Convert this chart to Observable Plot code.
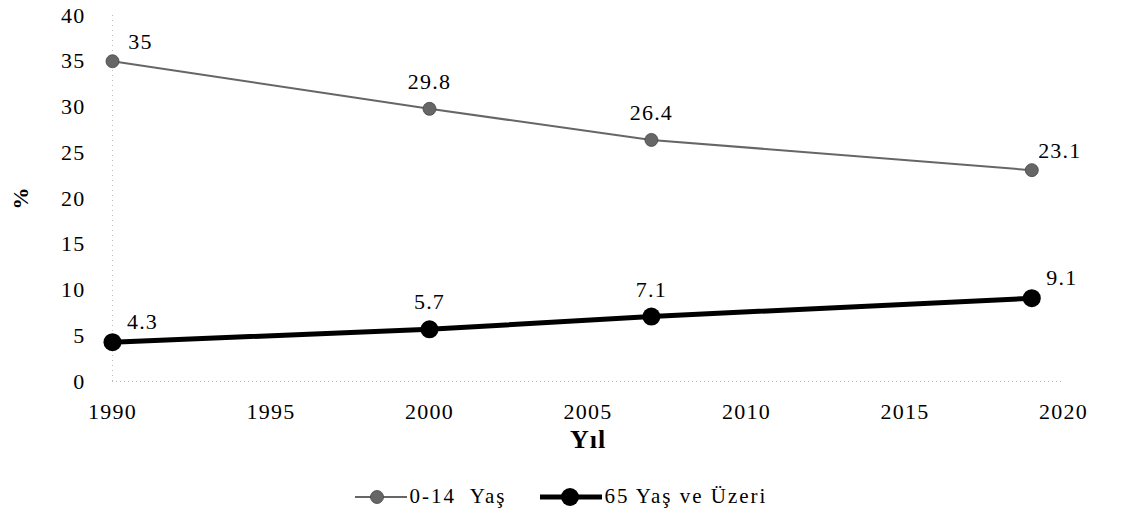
<!DOCTYPE html>
<html>
<head>
<meta charset="utf-8">
<script src="https://cdn.jsdelivr.net/npm/d3@7"></script>
<script src="https://cdn.jsdelivr.net/npm/@observablehq/plot@0.6"></script>
</head>
<body style="margin:0;background:#fff;font-family:'Liberation Serif'">
<div id="chart" style="width:1132px;font-family:'Liberation Serif'"></div>
<script>
const years = [1990, 2000, 2007, 2019];
const youth = [35, 29.8, 26.4, 23.1];
const elderly = [4.3, 5.7, 7.1, 9.1];
const xTicks = [1990, 1995, 2000, 2005, 2010, 2015, 2020];
const yTicks = [0, 5, 10, 15, 20, 25, 30, 35, 40];
const seriesNames = ["0-14  Yaş", "65 Yaş ve Üzeri"];

const youthData = years.map((y, i) => ({year: y, value: youth[i], i}));
const elderData = years.map((y, i) => ({year: y, value: elderly[i], i}));
const isEnd = d => d.i === 0 || d.i === years.length - 1;
const fmt = v => String(v);

const gray = "#666666";
const FONT = "Liberation Serif";

const plot = Plot.plot({
  width: 1132,
  height: 460,
  marginLeft: 112,
  marginRight: 69,
  marginTop: 15,
  marginBottom: 79,
  style: {fontFamily: FONT, fontSize: "22px", color: "#000", background: "#fff"},
  x: {domain: [1990, 2020], ticks: xTicks, tickFormat: d => String(d), tickSize: 0, tickPadding: 22, label: "Yıl", labelArrow: false, labelAnchor: "center", labelOffset: 66},
  y: {domain: [0, 40], ticks: yTicks, tickSize: 0, tickPadding: 27, label: "%", labelArrow: false, labelAnchor: "center", labelOffset: 100},
  marks: [
    Plot.ruleX([1990], {stroke: "#bbb", strokeDasharray: "1,4", strokeWidth: 1}),
    Plot.ruleY([0], {stroke: "#bbb", strokeDasharray: "1,3", strokeWidth: 1}),
    Plot.line(youthData, {x: "year", y: "value", stroke: gray, strokeWidth: 2}),
    Plot.dot(youthData, {x: "year", y: "value", r: 6.5, fill: gray, stroke: "#444", strokeWidth: 0.8}),
    Plot.line(elderData, {x: "year", y: "value", stroke: "#000", strokeWidth: 5}),
    Plot.dot(elderData, {x: "year", y: "value", r: 9, fill: "#000"}),
    Plot.text(youthData.filter(isEnd), {x: "year", y: "value", text: d => fmt(d.value), dx: 28, dy: -19, fontSize: 22}),
    Plot.text(youthData.filter(d => !isEnd(d)), {x: "year", y: "value", text: d => fmt(d.value), dy: -27, fontSize: 22}),
    Plot.text(elderData.filter(isEnd), {x: "year", y: "value", text: d => fmt(d.value), dx: 30, dy: -20, fontSize: 22}),
    Plot.text(elderData.filter(d => !isEnd(d)), {x: "year", y: "value", text: d => fmt(d.value), dy: -27, fontSize: 22})
  ]
});
document.getElementById("chart").appendChild(plot);

const svgSel = d3.select(plot);
svgSel.attr("font-family", FONT).style("font-family", FONT);
svgSel.selectAll("text").attr("font-family", FONT).style("font-family", FONT).style("letter-spacing", "1.2px");
svgSel.selectAll("g[aria-label='x-axis label'] text").style("font-weight", "bold").style("font-size", "26px").style("letter-spacing", "1px");
svgSel.selectAll("g[aria-label='y-axis label'] text").style("font-weight", "bold").style("font-size", "22px").style("letter-spacing", "0px");

const legend = d3.select("body").append("div")
  .style("display", "flex").style("justify-content", "center").style("align-items", "center")
  .style("gap", "34px").style("font-size", "21px").style("letter-spacing", "2px").style("color", "#000").style("margin-top", "24px")
  .style("padding-right", "10px")
  .style("font-family", FONT);
const it1 = legend.append("div").style("display", "flex").style("align-items", "center").style("gap", "3px");
const s1 = it1.append("svg").attr("width", 52).attr("height", 20);
s1.append("line").attr("x1", 0).attr("x2", 52).attr("y1", 10).attr("y2", 10).attr("stroke", gray).attr("stroke-width", 2);
s1.append("circle").attr("cx", 22).attr("cy", 10).attr("r", 6.5).attr("fill", gray).attr("stroke", "#444").attr("stroke-width", 0.8);
it1.append("span").style("white-space", "pre").style("font-family", FONT).text(seriesNames[0]);
const it2 = legend.append("div").style("display", "flex").style("align-items", "center").style("gap", "2px");
const s2 = it2.append("svg").attr("width", 62).attr("height", 20);
s2.append("line").attr("x1", 0).attr("x2", 62).attr("y1", 10).attr("y2", 10).attr("stroke", "#000").attr("stroke-width", 5);
s2.append("circle").attr("cx", 30).attr("cy", 10).attr("r", 9).attr("fill", "#000");
it2.append("span").style("font-family", FONT).text(seriesNames[1]);
</script>
</body>
</html>
